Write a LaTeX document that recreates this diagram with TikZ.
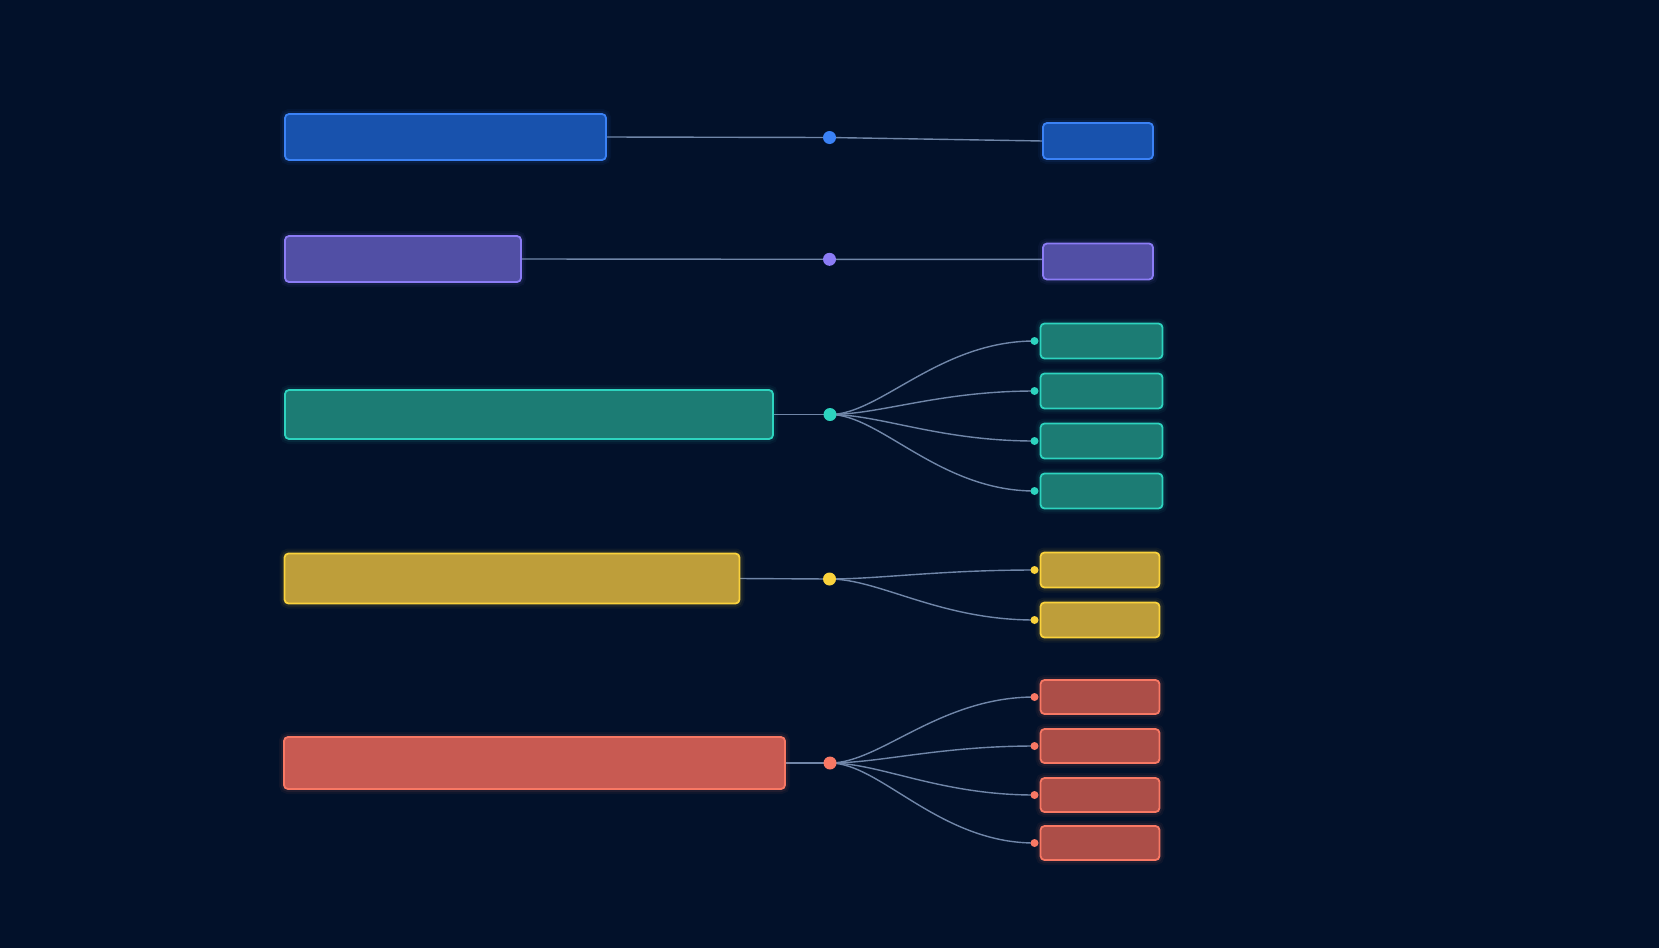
\documentclass[tikz,border=0pt]{standalone}
\pgfdeclarelayer{bg}
\pgfdeclarelayer{lines}
\pgfsetlayers{bg,lines,main}
\definecolor{bgc}{RGB}{2,17,42}
\definecolor{connc}{RGB}{112,134,168}
\definecolor{bluef}{RGB}{24,82,173}
\definecolor{bluel}{RGB}{59,130,246}
\definecolor{purpf}{RGB}{81,79,165}
\definecolor{purpl}{RGB}{139,124,246}
\definecolor{tealf}{RGB}{28,124,116}
\definecolor{teall}{RGB}{45,212,191}
\definecolor{yelf}{RGB}{190,158,58}
\definecolor{yell}{RGB}{250,210,60}
\definecolor{redf}{RGB}{200,90,82}
\definecolor{redsf}{RGB}{172,78,72}
\definecolor{redl}{RGB}{248,120,100}
\tikzset{
  glowbox/.style 2 args={rectangle, rounded corners=4pt, line width=1.8pt,
    fill=#1, draw=#2, inner sep=0pt, outer sep=0pt,
    preaction={draw=#2, line width=10pt, draw opacity=0.05},
    preaction={draw=#2, line width=6pt, draw opacity=0.08}},
  hub/.style={circle, fill=#1, draw=none, minimum size=13pt, inner sep=0pt},
  enddot/.style={circle, fill=#1, draw=none, minimum size=8pt, inner sep=0pt},
  conn/.style={draw=connc, line width=1.4pt},
}
\begin{document}
\begin{tikzpicture}[x=1pt,y=-1pt]
\begin{pgfonlayer}{bg}
\fill[bgc] (0,0) rectangle (1659,948);
\end{pgfonlayer}
\useasboundingbox (0,0) rectangle (1659,948);

% ---- row 1: blue
\node[glowbox={bluef}{bluel}, minimum width=321pt, minimum height=46pt] (b1) at (445.5,137) {};
\node[hub=bluel] (h1) at (829.5,137.5) {};
\node[glowbox={bluef}{bluel}, minimum width=110pt, minimum height=36pt] (s1) at (1098,141) {};

% ---- row 2: purple
\node[glowbox={purpf}{purpl}, minimum width=236pt, minimum height=46pt] (b2) at (403,259) {};
\node[hub=purpl] (h2) at (829.5,259.3) {};
\node[glowbox={purpf}{purpl}, minimum width=110pt, minimum height=36pt] (s2) at (1098,261.5) {};

% ---- row 3: teal
\node[glowbox={tealf}{teall}, minimum width=488pt, minimum height=49pt] (b3) at (529,414.5) {};
\node[hub=teall] (h3) at (830,414.5) {};
\foreach \i/\y in {1/341,2/391,3/441,4/491}{
  \node[glowbox={tealf}{teall}, minimum width=122pt, minimum height=35pt] (s3\i) at (1101.5,\y) {};
  \node[enddot=teall] (d3\i) at (1034.5,\y) {};
}

% ---- row 4: yellow
\node[glowbox={yelf}{yell}, minimum width=455pt, minimum height=50pt] (b4) at (512,578.5) {};
\node[hub=yell] (h4) at (829.5,579) {};
\foreach \i/\y in {1/570,2/620}{
  \node[glowbox={yelf}{yell}, minimum width=119pt, minimum height=35pt] (s4\i) at (1100,\y) {};
  \node[enddot=yell] (d4\i) at (1034.5,\y) {};
}

% ---- row 5: red
\node[glowbox={redf}{redl}, minimum width=501pt, minimum height=52pt] (b5) at (534.5,763) {};
\node[hub=redl] (h5) at (830,763) {};
\foreach \i/\y in {1/697,2/746,3/795,4/843}{
  \node[glowbox={redsf}{redl}, minimum width=119pt, minimum height=34pt] (s5\i) at (1100,\y) {};
  \node[enddot=redl] (d5\i) at (1034.5,\y) {};
}

% ---- connectors
\begin{pgfonlayer}{lines}
\draw[conn] (b1.east) -- (h1.center) -- (s1.west);
\draw[conn] (b2.east) -- (h2.center) -- (h2.center -| s2.west);
\draw[conn] (b3.east) -- (h3.center);
\foreach \i in {1,...,4}{
  \draw[conn] (h3.center) .. controls +(50,0) and +(-95,0) .. (d3\i.center);
}
\draw[conn] (b4.east) -- (h4.center);
\foreach \i in {1,2}{
  \draw[conn] (h4.center) .. controls +(50,0) and +(-95,0) .. (d4\i.center);
}
\draw[conn] (b5.east) -- (h5.center);
\foreach \i in {1,...,4}{
  \draw[conn] (h5.center) .. controls +(50,0) and +(-95,0) .. (d5\i.center);
}
\end{pgfonlayer}
\end{tikzpicture}
\end{document}
